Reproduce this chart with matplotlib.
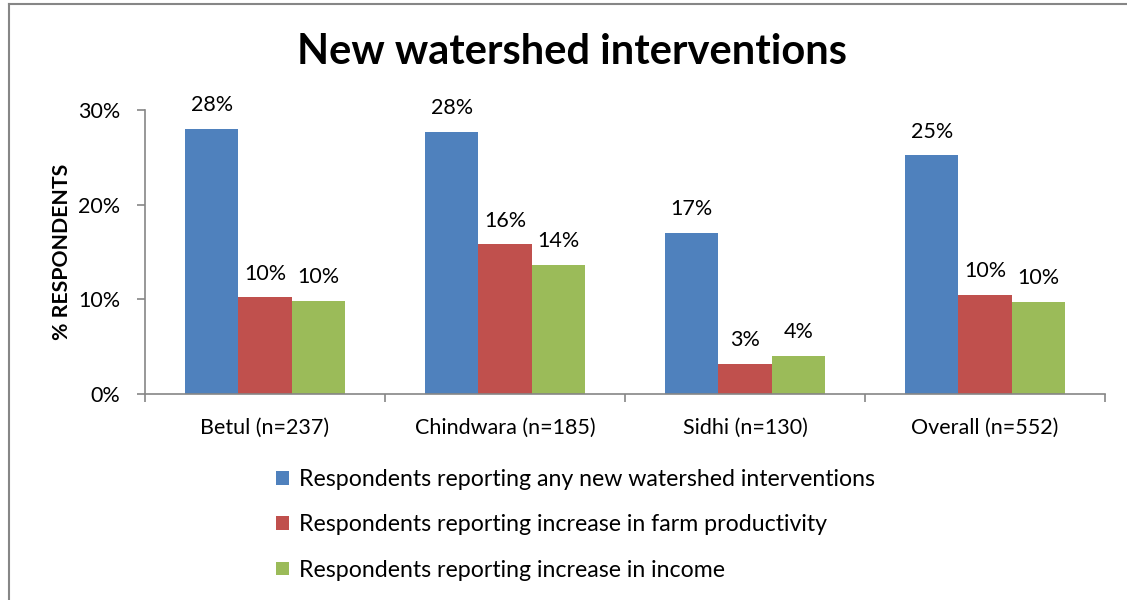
import matplotlib.pyplot as plt
from matplotlib.lines import Line2D
import numpy as np

plt.rcParams['font.family'] = ['Lato', 'DejaVu Sans']

categories = ["Betul (n=237)", "Chindwara (n=185)", "Sidhi (n=130)", "Overall (n=552)"]
series_names = [
    "Respondents reporting any new watershed interventions",
    "Respondents reporting increase in farm productivity",
    "Respondents reporting increase in income",
]
any_new = [28.0, 27.7, 17.0, 25.2]
farm_prod = [10.2, 15.8, 3.2, 10.5]
income = [9.8, 13.6, 4.0, 9.7]
series = [any_new, farm_prod, income]
colors = ["#4F81BD", "#C0504D", "#9BBB59"]
axis_grey = "#868686"

fig = plt.figure(figsize=(11.27, 6), dpi=100)
ax = fig.add_axes([145 / 1127, 1 - 394 / 600, 960 / 1127, 284 / 600])

x = np.arange(len(categories))
width = 0.222
for i, (vals, color) in enumerate(zip(series, colors)):
    pos = x + (i - 1) * width
    bars = ax.bar(pos, vals, width, color=color, label=series_names[i])
    for b, v in zip(bars, vals):
        ax.annotate(f"{v:.0f}%", (b.get_x() + b.get_width() / 2, v),
                    xytext=(0, 10), textcoords="offset points",
                    ha="center", va="bottom", fontsize=15.5)

ax.set_xlim(-0.5, len(categories) - 0.5)
ax.set_ylim(0, 30)
ax.set_yticks([0, 10, 20, 30])
ax.set_yticklabels(["0%", "10%", "20%", "30%"], fontsize=15.5)
ax.set_xticks(x)
ax.set_xticklabels(categories, fontsize=15.5)
ax.tick_params(axis="x", which="major", length=0, pad=17)
ax.set_xticks(np.arange(-0.5, len(categories), 1), minor=True)
ax.tick_params(axis="x", which="minor", length=6, color=axis_grey, width=1.2)
ax.tick_params(axis="y", length=6, color=axis_grey, width=1.2, pad=12)
for side in ["top", "right"]:
    ax.spines[side].set_visible(False)
for side in ["left", "bottom"]:
    ax.spines[side].set_color(axis_grey)
    ax.spines[side].set_linewidth(1.2)

ax.set_ylabel("% RESPONDENTS", fontsize=15.3, fontweight="bold", labelpad=4)

fig.text(572 / 1127, 1 - 52 / 600, "New watershed interventions",
         ha="center", va="center", fontsize=30, fontweight="bold")

handles, labels = ax.get_legend_handles_labels()
fig.legend(handles, labels, loc="upper left", bbox_to_anchor=(276 / 1127, 1 - 469 / 600),
           frameon=False, fontsize=16.7, handlelength=0.55, handleheight=0.55,
           handletextpad=0.45, labelspacing=1.05, borderaxespad=0, borderpad=0)

# outer chart border (left and top visible)
fig.add_artist(Line2D([9 / 1127, 9 / 1127], [0, 1 - 4 / 600], transform=fig.transFigure,
                      color=axis_grey, lw=1.5))
fig.add_artist(Line2D([9 / 1127, 1], [1 - 4 / 600, 1 - 4 / 600], transform=fig.transFigure,
                      color=axis_grey, lw=1.5))

fig.savefig("out.png", dpi=100)
